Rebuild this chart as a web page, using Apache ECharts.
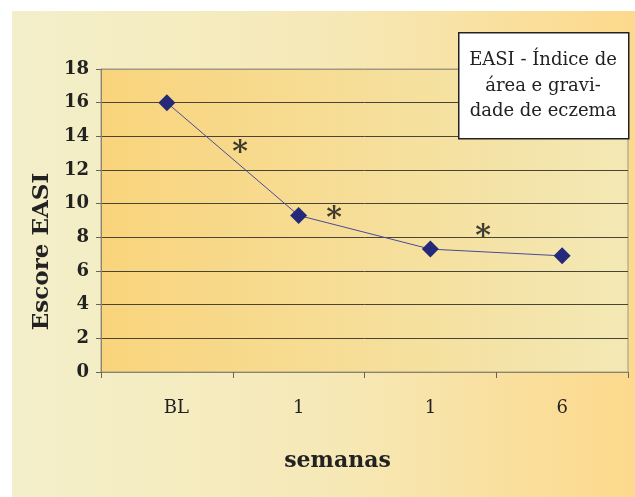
<!DOCTYPE html>
<html>
<head>
<meta charset="utf-8">
<script src="https://cdn.jsdelivr.net/npm/echarts@6/dist/echarts.min.js"></script>
<style>
html,body{margin:0;padding:0;background:#fff;}
#c{width:635px;height:497px;}
</style>
</head>
<body>
<div id="c"></div>
<script>
var categories = ['BL', '1', '1', '6'];
var easiValues = [16, 9.3, 7.3, 6.9];
var yTicks = {min: 0, max: 18, interval: 2};
// asterisk annotations: [fractional category position, score]
var asterisks = [[1.055, 13.0], [1.77, 9.1], [2.90, 8.0]];
var legendText = 'EASI - Índice de\nárea e gravi-\ndade de eczema';
var yName = 'Escore EASI';
var xName = 'semanas';

var serif = '"DejaVu Serif", "Liberation Serif", serif';
var gridColors = [];
for (var v = yTicks.min; v <= yTicks.max; v += yTicks.interval) {
  gridColors.push(v === yTicks.max ? '#a09880' : '#4a4436');
}
var chart = echarts.init(document.getElementById('c'));
chart.setOption({
  animation: false,
  graphic: [
    {type: 'rect', left: 12, top: 11, z: -10, silent: true,
     shape: {width: 623, height: 486},
     style: {fill: new echarts.graphic.LinearGradient(0, 0, 1, 0, [
       {offset: 0, color: '#f3efca'}, {offset: 0.5, color: '#f6e9b8'}, {offset: 1, color: '#fcd98c'}])}},
    {type: 'rect', left: 458, top: 32, z: 10,
     shape: {width: 170, height: 106},
     style: {fill: '#ffffff', stroke: '#222', lineWidth: 1.5}},
    {type: 'text', x: 543, y: 48, z: 11,
     style: {text: legendText, font: '18px ' + serif, fill: '#222', align: 'center', verticalAlign: 'top', lineHeight: 25.5}}
  ],
  grid: {left: 101, right: 7, top: 69, bottom: 125, show: true,
    borderWidth: 1, borderColor: '#a09880',
    backgroundColor: new echarts.graphic.LinearGradient(0, 0, 1, 0, [
      {offset: 0, color: '#f9d47c'}, {offset: 1, color: '#f3e8b5'}])},
  xAxis: [{
    type: 'category', boundaryGap: true,
    data: categories.map(function (c, i) {
      return i === 0 ? {value: c, textStyle: {padding: [0, 0, 0, 19]}} : c;
    }),
    axisLine: {lineStyle: {color: '#8a8470', width: 1}},
    axisTick: {show: true, length: 6, lineStyle: {color: '#6a6458'}},
    axisLabel: {margin: 27, fontFamily: serif, fontSize: 18, color: '#222'},
    name: xName, nameLocation: 'middle', nameGap: 78,
    nameTextStyle: {fontFamily: serif, fontSize: 22, fontWeight: 'bold', color: '#222', padding: [0, 54, 0, 0]}
  }, {
    type: 'value', min: 0, max: 4, show: false
  }],
  yAxis: [{
    type: 'value', min: yTicks.min, max: yTicks.max, interval: yTicks.interval,
    axisLine: {show: true, lineStyle: {color: '#8a8470', width: 1}},
    axisTick: {show: true, length: 5, lineStyle: {color: '#6a6458'}},
    axisLabel: {margin: 12, fontFamily: serif, fontSize: 18, fontWeight: 'bold', color: '#222'},
    splitLine: {show: true, lineStyle: {color: gridColors, width: 1}},
    name: yName, nameLocation: 'middle', nameGap: 46,
    nameTextStyle: {fontFamily: serif, fontSize: 23, fontWeight: 'bold', color: '#222', padding: [0, 62, 0, 0]}
  }],
  series: [{
    type: 'line', data: easiValues, xAxisIndex: 0,
    symbol: 'diamond', symbolSize: 17,
    lineStyle: {color: '#4a4a9a', width: 1},
    itemStyle: {color: '#242a78'}, z: 5
  }, {
    type: 'scatter', data: asterisks, xAxisIndex: 1,
    symbolSize: 1, itemStyle: {color: 'rgba(0,0,0,0)'},
    label: {show: true, position: 'inside', formatter: '*', fontFamily: serif, fontSize: 30, fontWeight: 'bold', color: '#111'}
  }]
});
</script>
</body>
</html>
